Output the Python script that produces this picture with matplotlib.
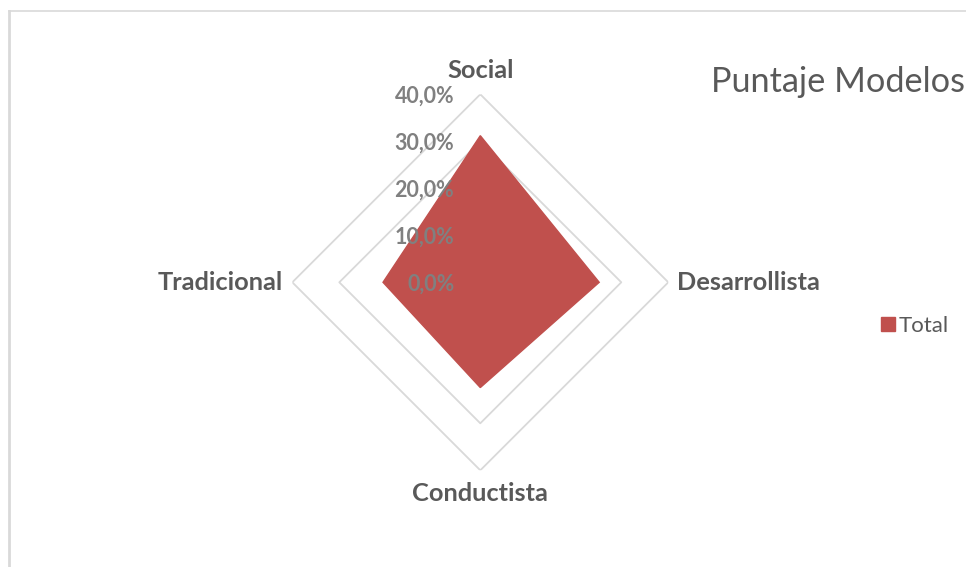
"""
Radar chart: Puntaje Modelos
"""
import numpy as np
import matplotlib
matplotlib.use("Agg")
import matplotlib.pyplot as plt
from matplotlib.lines import Line2D
from matplotlib.transforms import ScaledTranslation

# Data (share of total score per model)
categories = ["Social", "Desarrollista", "Conductista", "Tradicional"]
total = [0.312, 0.253, 0.224, 0.207]
ring_values = [0.0, 0.1, 0.2, 0.3, 0.4]
ring_labels = ["0,0%", "10,0%", "20,0%", "30,0%", "40,0%"]
series_name = "Total"
title = "Puntaje Modelos"

fill_color = "#C0504D"
grid_color = "#D9D9D9"
label_color = "#595959"
tick_color = "#808080"

plt.rcParams["font.family"] = ["Lato", "DejaVu Sans"]

W, H = 966, 567
fig = plt.figure(figsize=(W / 100, H / 100), dpi=100)

# Polar axes sized so the 40% ring sits where the reference has it
cx, cy, R = 480.3, 282.3, 188.0
ax = fig.add_axes([(cx - R) / W, (H - cy - R) / H, 2 * R / W, 2 * R / H], projection="polar")
ax.set_theta_zero_location("N")
ax.set_theta_direction(-1)
ax.set_ylim(0, max(ring_values))
ax.grid(False)
ax.spines["polar"].set_visible(False)
ax.set_xticks([])
ax.set_yticks([])
ax.patch.set_alpha(0)

angles = np.linspace(0, 2 * np.pi, len(categories), endpoint=False)
closed = np.concatenate([angles, angles[:1]])

# Diamond gridlines
for r in ring_values[1:]:
    ax.plot(closed, [r] * len(closed), color=grid_color, lw=1.3, zorder=1)

# Series
vals = total + total[:1]
ax.fill(closed, vals, color=fill_color, zorder=2, label=series_name)

# Value labels along the Social axis
off = lambda dx, dy: ax.transData + ScaledTranslation(dx / 100, dy / 100, fig.dpi_scale_trans)
for r, lab in zip(ring_values, ring_labels):
    ax.text(0, r, lab, transform=off(-26, -1.5), ha="right", va="center",
            fontsize=15.5, fontweight="bold", color=tick_color, zorder=3)

# Category labels just outside the outer ring
rmax = max(ring_values)
place = [(0, 16, "center", "baseline"), (9, 0, "left", "center"),
         (0, -12, "center", "top"), (-9, 0, "right", "center")]
for ang, cat, (dx, dy, ha, va) in zip(angles, categories, place):
    ax.text(ang, rmax, cat, transform=off(dx, dy), ha=ha, va=va,
            fontsize=18.3, fontweight="bold", color=label_color)

# Title and legend
fig.text(711 / W, 1 - 92 / H, title, ha="left", va="baseline", fontsize=24.7, color=label_color)
fig.legend(loc="center left", bbox_to_anchor=(872 / W, 1 - 326 / H), frameon=False,
           fontsize=16, labelcolor=label_color, handlelength=0.62, handleheight=0.62,
           handletextpad=0.2, borderaxespad=0)

# Chart-area border (only top and left edges are visible)
fig.add_artist(Line2D([8.5 / W, 1], [1 - 10.5 / H] * 2, color=grid_color, lw=1.2))
fig.add_artist(Line2D([9 / W] * 2, [0, 1 - 10.5 / H], color=grid_color, lw=2))

fig.savefig("out.png", dpi=100)
